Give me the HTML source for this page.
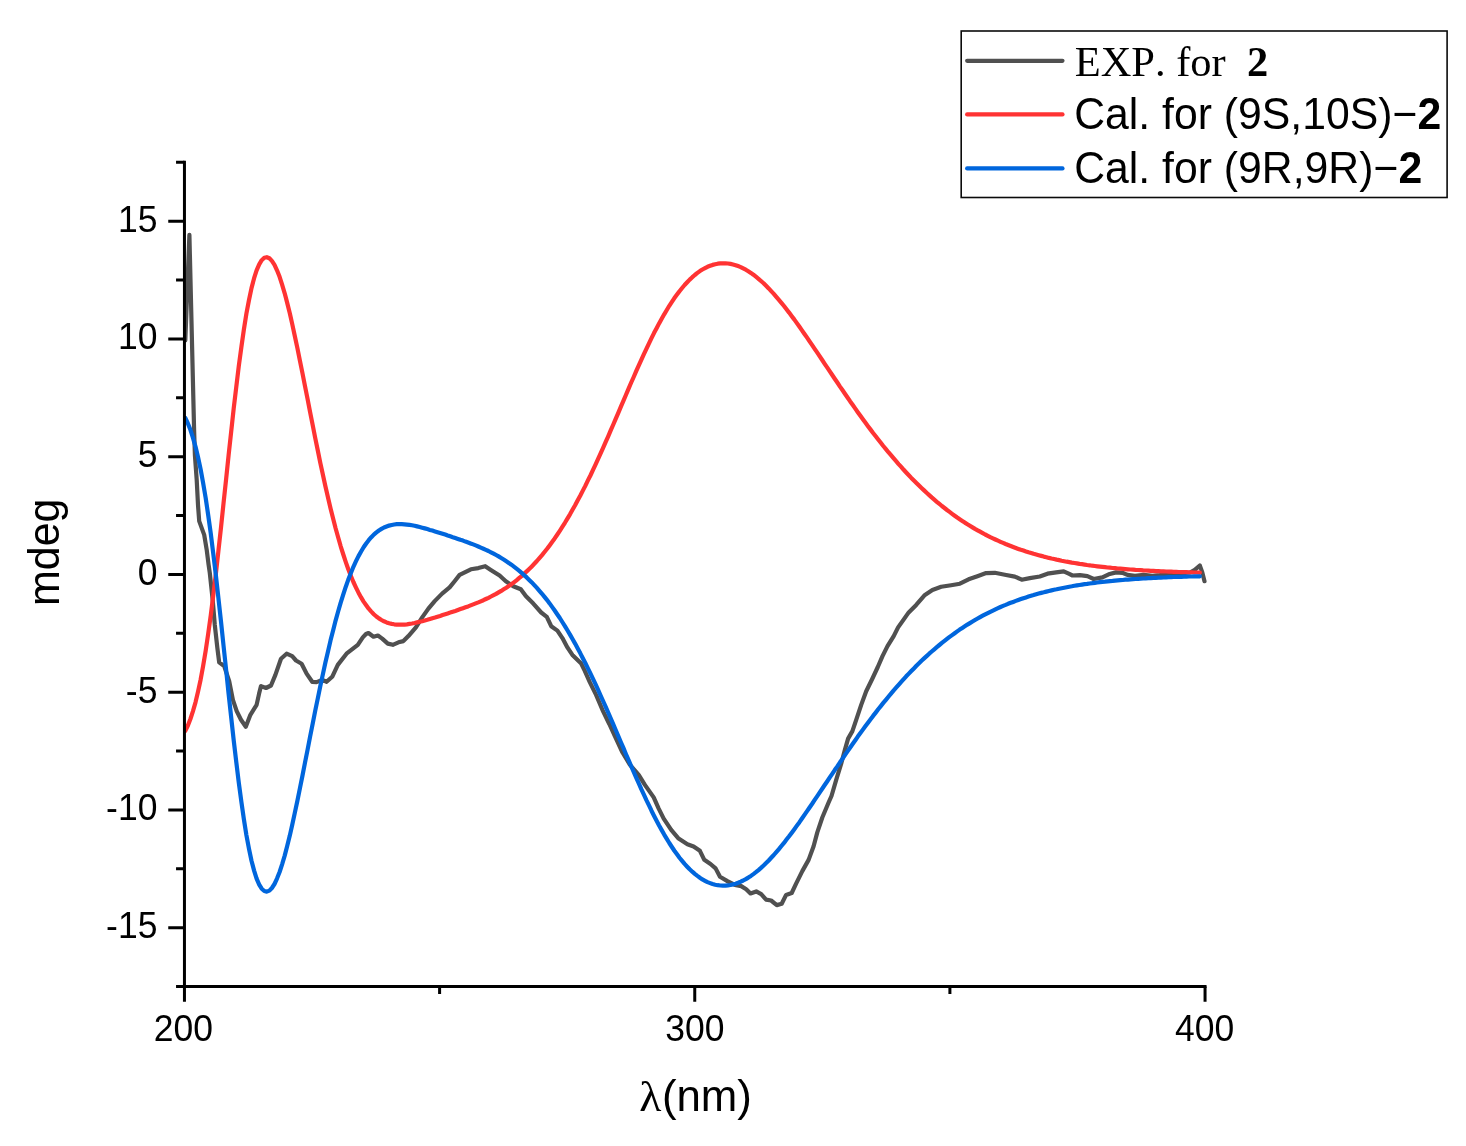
<!DOCTYPE html>
<html><head><meta charset="utf-8"><title>ECD spectra</title>
<style>
html,body{margin:0;padding:0;background:#fff}
svg{display:block}
text{font-family:"Liberation Sans",sans-serif;fill:#000;font-kerning:none}
.tk{font-size:36.6px}
.ser{font-family:"Liberation Serif",serif}
</style></head><body>
<svg width="1466" height="1146" viewBox="0 0 1466 1146">
<rect width="1466" height="1146" fill="#fff"/>

<g fill="none" stroke-width="4.2" stroke-linejoin="round" stroke-linecap="round">
<path stroke="#505050" d="M185.3,340.4 L189.4,234.8 L194.1,430.0 L194.9,455.0 L196.7,479.9 L198.0,504.9 L199.2,521.1 L204.2,534.9 L206.7,549.8 L208.6,564.8 L209.8,573.0 L212.7,600.0 L214.8,625.0 L217.3,647.4 L219.2,662.4 L224.2,666.2 L229.2,681.1 L232.9,699.9 L236.7,711.1 L241.0,719.8 L245.8,726.7 L250.4,714.8 L256.6,704.9 L259.1,693.6 L261.0,686.1 L266.0,688.0 L271.0,685.5 L275.4,674.9 L281.0,658.7 L286.6,653.7 L292.2,656.2 L296.0,660.5 L301.6,663.7 L306.6,673.6 L312.2,681.8 L316.6,682.1 L322.2,679.9 L326.6,681.8 L332.2,676.8 L337.8,664.9 L346.5,653.7 L357.8,644.9 L362.8,637.4 L366.0,634.0 L368.5,633.0 L373.5,636.7 L377.9,635.5 L382.2,638.6 L387.8,643.6 L392.8,644.8 L398.5,642.3 L403.4,641.1 L408.4,636.1 L415.9,627.4 L422.2,617.4 L428.4,608.6 L434.7,601.1 L442.1,593.6 L449.6,587.4 L454.6,581.2 L459.6,574.9 L470.9,569.3 L478.3,568.1 L485.2,566.2 L490.8,569.9 L499.6,575.5 L505.8,581.2 L513.3,586.2 L520.8,589.3 L525.8,596.1 L533.3,603.6 L541.2,612.5 L546.8,616.8 L551.2,626.2 L557.4,630.6 L562.4,638.1 L567.4,647.4 L572.4,654.9 L581.2,663.6 L584.9,671.1 L589.9,682.4 L596.1,694.9 L602.4,709.8 L609.3,724.0 L615.0,736.5 L622.5,752.5 L630.0,764.9 L638.7,774.9 L644.9,784.9 L653.7,797.4 L658.7,808.6 L663.7,818.6 L671.2,829.9 L678.6,838.6 L687.4,844.2 L693.6,846.5 L699.9,850.8 L704.3,859.8 L710.5,864.0 L715.6,868.4 L720.0,876.8 L727.4,881.1 L734.9,884.9 L741.2,886.1 L746.2,889.2 L750.5,893.4 L756.2,891.4 L761.2,894.2 L766.1,899.6 L771.1,900.5 L776.8,905.1 L781.7,903.8 L786.1,894.9 L791.7,893.0 L796.1,883.6 L802.3,871.1 L808.6,859.9 L813.6,846.2 L817.3,832.4 L822.3,817.5 L828.6,802.5 L831.5,796.0 L836.2,779.8 L841.2,763.6 L844.9,749.9 L848.1,738.6 L852.4,731.1 L856.2,719.9 L861.2,704.9 L866.2,691.2 L872.2,679.0 L877.8,667.0 L882.5,656.1 L887.5,646.1 L893.7,636.1 L898.1,627.4 L904.3,618.6 L908.7,612.4 L916.2,604.9 L924.9,594.9 L932.4,589.9 L941.2,586.8 L951.1,585.2 L959.9,583.7 L968.6,579.3 L977.4,576.2 L986.1,573.1 L994.8,572.8 L1004.8,574.7 L1014.8,576.6 L1021.7,579.7 L1029.8,578.1 L1039.8,576.5 L1047.5,573.7 L1056.2,572.4 L1063.7,571.4 L1068.7,573.7 L1072.5,575.5 L1079.9,575.2 L1087.4,576.2 L1093.7,579.0 L1102.4,577.4 L1108.7,574.3 L1116.1,572.4 L1122.4,572.8 L1127.4,574.9 L1134.9,575.9 L1143.6,574.9 L1152.3,575.9 L1159.8,575.2 L1166.1,574.3 L1180.0,573.5 L1190.0,572.5 L1194.8,569.9 L1199.8,565.5 L1202.3,572.4 L1204.5,581.2"/>
<path stroke="#ff3333" d="M185.3,730.9 L187.9,725.5 L190.4,719.0 L192.9,711.3 L195.5,702.3 L198.0,691.8 L200.6,679.7 L203.1,666.1 L205.7,650.7 L208.2,633.7 L210.8,615.1 L213.3,595.0 L215.9,573.5 L218.4,550.9 L221.0,527.5 L223.5,503.5 L226.1,479.3 L228.6,455.2 L231.2,431.5 L233.7,408.6 L236.3,386.7 L238.8,366.0 L241.4,346.9 L243.9,329.4 L246.4,313.7 L249.0,300.0 L251.5,288.1 L254.1,278.2 L256.6,270.3 L259.2,264.3 L261.7,260.2 L264.3,257.8 L266.8,257.2 L269.4,258.3 L271.9,260.9 L274.5,264.9 L277.0,270.3 L279.6,276.8 L282.1,284.6 L284.7,293.3 L287.2,302.9 L289.8,313.3 L292.3,324.4 L294.8,336.0 L297.4,348.1 L299.9,360.6 L302.5,373.3 L305.0,386.2 L307.6,399.2 L310.1,412.2 L312.7,425.1 L315.2,437.9 L317.8,450.5 L320.3,462.8 L322.9,474.7 L325.4,486.3 L328.0,497.5 L330.5,508.2 L333.1,518.5 L335.6,528.3 L338.2,537.5 L340.7,546.3 L343.3,554.5 L345.8,562.1 L348.3,569.3 L350.9,575.9 L353.4,582.0 L356.0,587.6 L358.5,592.7 L361.1,597.4 L363.6,601.6 L366.2,605.3 L368.7,608.7 L371.3,611.6 L373.8,614.2 L376.4,616.5 L378.9,618.4 L381.5,620.0 L384.0,621.3 L386.6,622.4 L389.1,623.3 L391.7,623.9 L394.2,624.3 L396.7,624.6 L399.3,624.7 L401.8,624.7 L404.4,624.6 L406.9,624.3 L409.5,623.9 L412.0,623.5 L414.6,623.0 L417.1,622.4 L419.7,621.8 L422.2,621.2 L424.8,620.5 L427.3,619.8 L429.9,619.0 L432.4,618.2 L435.0,617.5 L437.5,616.7 L440.1,615.9 L442.6,615.0 L445.2,614.2 L447.7,613.4 L450.2,612.6 L452.8,611.7 L455.3,610.9 L457.9,610.0 L460.4,609.1 L463.0,608.2 L465.5,607.3 L468.1,606.4 L470.6,605.4 L473.2,604.4 L475.7,603.4 L478.3,602.4 L480.8,601.3 L483.4,600.2 L485.9,599.0 L488.5,597.8 L491.0,596.5 L493.6,595.2 L496.1,593.9 L498.6,592.4 L501.2,590.9 L503.7,589.3 L506.3,587.7 L508.8,586.0 L511.4,584.2 L513.9,582.3 L516.5,580.3 L519.0,578.2 L521.6,576.1 L524.1,573.8 L526.7,571.4 L529.2,569.0 L531.8,566.4 L534.3,563.8 L536.9,561.0 L539.4,558.1 L542.0,555.1 L544.5,552.0 L547.1,548.8 L549.6,545.4 L552.1,542.0 L554.7,538.4 L557.2,534.7 L559.8,530.8 L562.3,526.9 L564.9,522.8 L567.4,518.6 L570.0,514.3 L572.5,509.8 L575.1,505.3 L577.6,500.6 L580.2,495.8 L582.7,490.9 L585.3,485.9 L587.8,480.7 L590.4,475.5 L592.9,470.1 L595.5,464.7 L598.0,459.2 L600.5,453.6 L603.1,447.9 L605.6,442.1 L608.2,436.3 L610.7,430.4 L613.3,424.5 L615.8,418.6 L618.4,412.6 L620.9,406.6 L623.5,400.7 L626.0,394.7 L628.6,388.7 L631.1,382.8 L633.7,377.0 L636.2,371.2 L638.8,365.4 L641.3,359.8 L643.9,354.2 L646.4,348.8 L649.0,343.4 L651.5,338.2 L654.0,333.1 L656.6,328.2 L659.1,323.4 L661.7,318.7 L664.2,314.3 L666.8,310.0 L669.3,305.8 L671.9,301.9 L674.4,298.1 L677.0,294.6 L679.5,291.2 L682.1,288.0 L684.6,285.0 L687.2,282.2 L689.7,279.6 L692.3,277.2 L694.8,275.0 L697.4,272.9 L699.9,271.1 L702.4,269.5 L705.0,268.1 L707.5,266.8 L710.1,265.8 L712.6,264.9 L715.2,264.2 L717.7,263.7 L720.3,263.4 L722.8,263.3 L725.4,263.3 L727.9,263.5 L730.5,263.9 L733.0,264.5 L735.6,265.2 L738.1,266.1 L740.7,267.1 L743.2,268.4 L745.8,269.7 L748.3,271.2 L750.9,272.9 L753.4,274.7 L755.9,276.7 L758.5,278.8 L761.0,281.0 L763.6,283.3 L766.1,285.8 L768.7,288.4 L771.2,291.1 L773.8,293.9 L776.3,296.8 L778.9,299.8 L781.4,302.8 L784.0,306.0 L786.5,309.3 L789.1,312.6 L791.6,316.0 L794.2,319.4 L796.7,322.9 L799.3,326.5 L801.8,330.1 L804.3,333.7 L806.9,337.4 L809.4,341.1 L812.0,344.9 L814.5,348.6 L817.1,352.4 L819.6,356.2 L822.2,360.0 L824.7,363.8 L827.3,367.6 L829.8,371.4 L832.4,375.2 L834.9,379.0 L837.5,382.8 L840.0,386.6 L842.6,390.3 L845.1,394.0 L847.7,397.7 L850.2,401.4 L852.8,405.0 L855.3,408.6 L857.8,412.2 L860.4,415.8 L862.9,419.3 L865.5,422.8 L868.0,426.2 L870.6,429.6 L873.1,433.0 L875.7,436.3 L878.2,439.5 L880.8,442.8 L883.3,446.0 L885.9,449.1 L888.4,452.2 L891.0,455.2 L893.5,458.2 L896.1,461.2 L898.6,464.1 L901.2,466.9 L903.7,469.8 L906.2,472.5 L908.8,475.2 L911.3,477.9 L913.9,480.5 L916.4,483.0 L919.0,485.6 L921.5,488.0 L924.1,490.4 L926.6,492.8 L929.2,495.1 L931.7,497.4 L934.3,499.6 L936.8,501.8 L939.4,503.9 L941.9,506.0 L944.5,508.0 L947.0,510.0 L949.6,511.9 L952.1,513.8 L954.7,515.7 L957.2,517.5 L959.7,519.2 L962.3,520.9 L964.8,522.6 L967.4,524.2 L969.9,525.8 L972.5,527.4 L975.0,528.9 L977.6,530.3 L980.1,531.7 L982.7,533.1 L985.2,534.5 L987.8,535.8 L990.3,537.1 L992.9,538.3 L995.4,539.5 L998.0,540.7 L1000.5,541.8 L1003.1,542.9 L1005.6,544.0 L1008.1,545.0 L1010.7,546.0 L1013.2,547.0 L1015.8,548.0 L1018.3,548.9 L1020.9,549.8 L1023.4,550.6 L1026.0,551.5 L1028.5,552.3 L1031.1,553.0 L1033.6,553.8 L1036.2,554.5 L1038.7,555.2 L1041.3,555.9 L1043.8,556.6 L1046.4,557.2 L1048.9,557.9 L1051.5,558.5 L1054.0,559.0 L1056.6,559.6 L1059.1,560.1 L1061.6,560.7 L1064.2,561.2 L1066.7,561.7 L1069.3,562.1 L1071.8,562.6 L1074.4,563.0 L1076.9,563.4 L1079.5,563.9 L1082.0,564.2 L1084.6,564.6 L1087.1,565.0 L1089.7,565.3 L1092.2,565.7 L1094.8,566.0 L1097.3,566.3 L1099.9,566.6 L1102.4,566.9 L1105.0,567.2 L1107.5,567.5 L1110.0,567.7 L1112.6,568.0 L1115.1,568.2 L1117.7,568.5 L1120.2,568.7 L1122.8,568.9 L1125.3,569.1 L1127.9,569.3 L1130.4,569.5 L1133.0,569.7 L1135.5,569.9 L1138.1,570.0 L1140.6,570.2 L1143.2,570.4 L1145.7,570.5 L1148.3,570.6 L1150.8,570.8 L1153.4,570.9 L1155.9,571.1 L1158.5,571.2 L1161.0,571.3 L1163.5,571.4 L1166.1,571.5 L1168.6,571.6 L1171.2,571.7 L1173.7,571.8 L1176.3,571.9 L1178.8,572.0 L1181.4,572.1 L1183.9,572.2 L1186.5,572.2 L1189.0,572.3 L1191.6,572.4 L1194.1,572.5 L1196.7,572.5 L1199.2,572.6 L1199.9,572.6"/>
<path stroke="#0066dd" d="M185.3,418.0 L187.9,423.4 L190.4,429.8 L192.9,437.6 L195.5,446.6 L198.0,457.1 L200.6,469.1 L203.1,482.8 L205.7,498.1 L208.2,515.1 L210.8,533.8 L213.3,553.9 L215.9,575.4 L218.4,597.9 L221.0,621.4 L223.5,645.4 L226.1,669.6 L228.6,693.7 L231.2,717.4 L233.7,740.3 L236.3,762.2 L238.8,782.8 L241.4,802.0 L243.9,819.4 L246.4,835.1 L249.0,848.9 L251.5,860.8 L254.1,870.6 L256.6,878.6 L259.2,884.6 L261.7,888.7 L264.3,891.0 L266.8,891.6 L269.4,890.6 L271.9,888.0 L274.5,884.0 L277.0,878.6 L279.6,872.0 L282.1,864.3 L284.7,855.6 L287.2,846.0 L289.8,835.6 L292.3,824.5 L294.8,812.9 L297.4,800.7 L299.9,788.3 L302.5,775.5 L305.0,762.6 L307.6,749.6 L310.1,736.6 L312.7,723.7 L315.2,710.9 L317.8,698.4 L320.3,686.1 L322.9,674.1 L325.4,662.5 L328.0,651.4 L330.5,640.6 L333.1,630.4 L335.6,620.6 L338.2,611.3 L340.7,602.6 L343.3,594.4 L345.8,586.7 L348.3,579.6 L350.9,572.9 L353.4,566.8 L356.0,561.2 L358.5,556.1 L361.1,551.5 L363.6,547.3 L366.2,543.5 L368.7,540.2 L371.3,537.2 L373.8,534.6 L376.4,532.4 L378.9,530.5 L381.5,528.9 L384.0,527.5 L386.6,526.5 L389.1,525.6 L391.7,525.0 L394.2,524.5 L396.7,524.2 L399.3,524.1 L401.8,524.2 L404.4,524.3 L406.9,524.6 L409.5,524.9 L412.0,525.3 L414.6,525.8 L417.1,526.4 L419.7,527.0 L422.2,527.7 L424.8,528.4 L427.3,529.1 L429.9,529.9 L432.4,530.6 L435.0,531.4 L437.5,532.2 L440.1,533.0 L442.6,533.8 L445.2,534.6 L447.7,535.5 L450.2,536.3 L452.8,537.2 L455.3,538.0 L457.9,538.9 L460.4,539.8 L463.0,540.6 L465.5,541.6 L468.1,542.5 L470.6,543.4 L473.2,544.4 L475.7,545.4 L478.3,546.5 L480.8,547.6 L483.4,548.7 L485.9,549.8 L488.5,551.0 L491.0,552.3 L493.6,553.6 L496.1,555.0 L498.6,556.4 L501.2,558.0 L503.7,559.5 L506.3,561.2 L508.8,562.9 L511.4,564.7 L513.9,566.6 L516.5,568.6 L519.0,570.6 L521.6,572.8 L524.1,575.1 L526.7,577.4 L529.2,579.9 L531.8,582.4 L534.3,585.1 L536.9,587.9 L539.4,590.8 L542.0,593.8 L544.5,596.9 L547.1,600.1 L549.6,603.4 L552.1,606.9 L554.7,610.5 L557.2,614.2 L559.8,618.0 L562.3,622.0 L564.9,626.1 L567.4,630.3 L570.0,634.6 L572.5,639.0 L575.1,643.6 L577.6,648.3 L580.2,653.1 L582.7,658.0 L585.3,663.0 L587.8,668.1 L590.4,673.4 L592.9,678.7 L595.5,684.2 L598.0,689.7 L600.5,695.3 L603.1,701.0 L605.6,706.7 L608.2,712.6 L610.7,718.4 L613.3,724.3 L615.8,730.3 L618.4,736.3 L620.9,742.2 L623.5,748.2 L626.0,754.2 L628.6,760.1 L631.1,766.0 L633.7,771.9 L636.2,777.7 L638.8,783.4 L641.3,789.1 L643.9,794.6 L646.4,800.1 L649.0,805.4 L651.5,810.7 L654.0,815.7 L656.6,820.7 L659.1,825.5 L661.7,830.1 L664.2,834.6 L666.8,838.9 L669.3,843.0 L671.9,847.0 L674.4,850.7 L677.0,854.3 L679.5,857.7 L682.1,860.9 L684.6,863.9 L687.2,866.7 L689.7,869.3 L692.3,871.7 L694.8,873.9 L697.4,875.9 L699.9,877.7 L702.4,879.4 L705.0,880.8 L707.5,882.1 L710.1,883.1 L712.6,884.0 L715.2,884.7 L717.7,885.2 L720.3,885.5 L722.8,885.6 L725.4,885.6 L727.9,885.3 L730.5,885.0 L733.0,884.4 L735.6,883.7 L738.1,882.8 L740.7,881.7 L743.2,880.5 L745.8,879.1 L748.3,877.6 L750.9,875.9 L753.4,874.1 L755.9,872.2 L758.5,870.1 L761.0,867.9 L763.6,865.5 L766.1,863.1 L768.7,860.5 L771.2,857.8 L773.8,855.0 L776.3,852.1 L778.9,849.1 L781.4,846.0 L784.0,842.9 L786.5,839.6 L789.1,836.3 L791.6,832.9 L794.2,829.4 L796.7,825.9 L799.3,822.4 L801.8,818.8 L804.3,815.1 L806.9,811.4 L809.4,807.7 L812.0,804.0 L814.5,800.2 L817.1,796.4 L819.6,792.6 L822.2,788.8 L824.7,785.0 L827.3,781.2 L829.8,777.4 L832.4,773.6 L834.9,769.8 L837.5,766.1 L840.0,762.3 L842.6,758.6 L845.1,754.8 L847.7,751.1 L850.2,747.5 L852.8,743.8 L855.3,740.2 L857.8,736.6 L860.4,733.1 L862.9,729.6 L865.5,726.1 L868.0,722.7 L870.6,719.3 L873.1,715.9 L875.7,712.6 L878.2,709.3 L880.8,706.1 L883.3,702.9 L885.9,699.8 L888.4,696.7 L891.0,693.6 L893.5,690.6 L896.1,687.7 L898.6,684.8 L901.2,681.9 L903.7,679.1 L906.2,676.3 L908.8,673.6 L911.3,671.0 L913.9,668.4 L916.4,665.8 L919.0,663.3 L921.5,660.8 L924.1,658.4 L926.6,656.1 L929.2,653.7 L931.7,651.5 L934.3,649.3 L936.8,647.1 L939.4,645.0 L941.9,642.9 L944.5,640.9 L947.0,638.9 L949.6,636.9 L952.1,635.1 L954.7,633.2 L957.2,631.4 L959.7,629.6 L962.3,627.9 L964.8,626.3 L967.4,624.6 L969.9,623.1 L972.5,621.5 L975.0,620.0 L977.6,618.5 L980.1,617.1 L982.7,615.7 L985.2,614.4 L987.8,613.1 L990.3,611.8 L992.9,610.6 L995.4,609.4 L998.0,608.2 L1000.5,607.0 L1003.1,605.9 L1005.6,604.9 L1008.1,603.8 L1010.7,602.8 L1013.2,601.9 L1015.8,600.9 L1018.3,600.0 L1020.9,599.1 L1023.4,598.2 L1026.0,597.4 L1028.5,596.6 L1031.1,595.8 L1033.6,595.1 L1036.2,594.3 L1038.7,593.6 L1041.3,592.9 L1043.8,592.3 L1046.4,591.6 L1048.9,591.0 L1051.5,590.4 L1054.0,589.8 L1056.6,589.3 L1059.1,588.7 L1061.6,588.2 L1064.2,587.7 L1066.7,587.2 L1069.3,586.7 L1071.8,586.3 L1074.4,585.8 L1076.9,585.4 L1079.5,585.0 L1082.0,584.6 L1084.6,584.2 L1087.1,583.9 L1089.7,583.5 L1092.2,583.2 L1094.8,582.8 L1097.3,582.5 L1099.9,582.2 L1102.4,581.9 L1105.0,581.7 L1107.5,581.4 L1110.0,581.1 L1112.6,580.9 L1115.1,580.6 L1117.7,580.4 L1120.2,580.2 L1122.8,580.0 L1125.3,579.7 L1127.9,579.6 L1130.4,579.4 L1133.0,579.2 L1135.5,579.0 L1138.1,578.8 L1140.6,578.7 L1143.2,578.5 L1145.7,578.4 L1148.3,578.2 L1150.8,578.1 L1153.4,577.9 L1155.9,577.8 L1158.5,577.7 L1161.0,577.6 L1163.5,577.5 L1166.1,577.3 L1168.6,577.2 L1171.2,577.1 L1173.7,577.0 L1176.3,576.9 L1178.8,576.9 L1181.4,576.8 L1183.9,576.7 L1186.5,576.6 L1189.0,576.5 L1191.6,576.5 L1194.1,576.4 L1196.7,576.3 L1199.2,576.3 L1199.9,576.3"/>
</g>
<g stroke="#000" stroke-width="3" fill="none" stroke-linecap="butt">
<path d="M184.45,160.80 V988.05"/>
<path d="M182.95,986.55 H1206.55"/>
<path d="M176.05,986.55 H184.45 M168.25,927.68 H184.45 M176.05,868.80 H184.45 M168.25,809.93 H184.45 M176.05,751.05 H184.45 M168.25,692.18 H184.45 M176.05,633.30 H184.45 M168.25,574.43 H184.45 M176.05,515.55 H184.45 M168.25,456.68 H184.45 M176.05,397.80 H184.45 M168.25,338.93 H184.45 M176.05,280.05 H184.45 M168.25,221.18 H184.45 M176.05,162.30 H184.45 M184.45,986.55 V1001.85 M439.60,986.55 V993.95 M694.75,986.55 V1001.85 M949.90,986.55 V993.95 M1205.05,986.55 V1001.85 "/>
</g>
<text transform="translate(157.40,938.18) scale(0.97,1)" text-anchor="end" class="tk">-15</text>
<text transform="translate(157.40,820.43) scale(0.97,1)" text-anchor="end" class="tk">-10</text>
<text transform="translate(157.40,702.68) scale(0.97,1)" text-anchor="end" class="tk">-5</text>
<text transform="translate(157.40,584.93) scale(0.97,1)" text-anchor="end" class="tk">0</text>
<text transform="translate(157.40,467.18) scale(0.97,1)" text-anchor="end" class="tk">5</text>
<text transform="translate(157.40,349.43) scale(0.97,1)" text-anchor="end" class="tk">10</text>
<text transform="translate(157.40,231.68) scale(0.97,1)" text-anchor="end" class="tk">15</text>
<text transform="translate(183.45,1040.60) scale(0.97,1)" text-anchor="middle" class="tk">200</text>
<text transform="translate(694.95,1040.60) scale(0.97,1)" text-anchor="middle" class="tk">300</text>
<text transform="translate(1204.65,1040.60) scale(0.97,1)" text-anchor="middle" class="tk">400</text>
<text transform="translate(58.80,552.20) rotate(-90) scale(0.98,1)" text-anchor="middle" font-size="43.8">mdeg</text>
<text transform="translate(639.30,1110.70) scale(1.1,1)" text-anchor="start" class="ser" font-size="41.5">λ</text>
<text transform="translate(661.90,1110.70)" text-anchor="start" font-size="43.8">(nm)</text>
<rect x="961.2" y="31.0" width="485.9" height="166.5" fill="#fff" stroke="#0a0a0a" stroke-width="1.6"/>
<g fill="none" stroke-width="4.2" stroke-linecap="round">
<path stroke="#505050" d="M967.15,60.86 H1062.5"/>
<path stroke="#ff3333" d="M967.15,114.4 H1062.5"/>
<path stroke="#0066dd" d="M967.15,168.4 H1062.5"/>
</g>
<text transform="translate(1074.70,75.50) scale(0.988,1)" text-anchor="start" class="ser" font-size="43.0" xml:space="preserve">EXP. for  <tspan font-weight="bold">2</tspan></text>
<text transform="translate(1074.20,129.30) scale(0.976,1)" text-anchor="start" font-size="43.8">Cal. for (9S,10S)−<tspan font-weight="bold">2</tspan></text>
<text transform="translate(1074.20,183.10) scale(0.976,1)" text-anchor="start" font-size="43.8">Cal. for (9R,9R)−<tspan font-weight="bold">2</tspan></text>
</svg></body></html>
